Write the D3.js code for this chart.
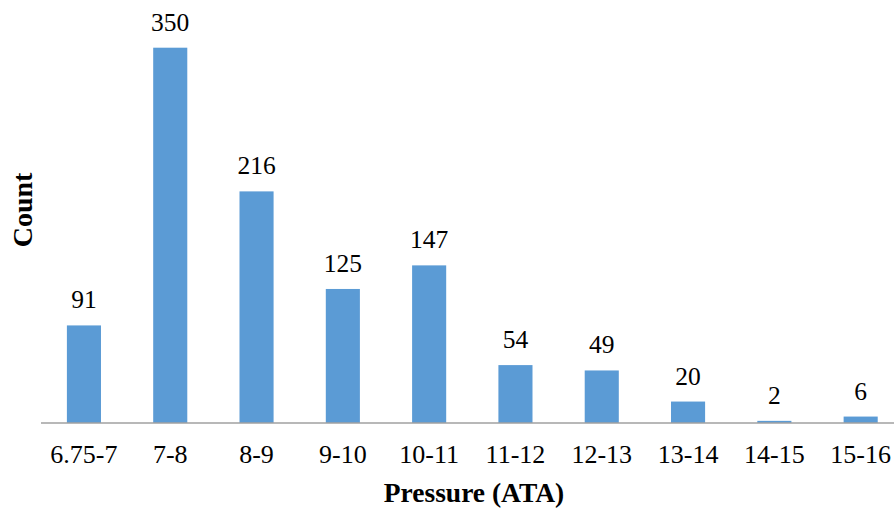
<!DOCTYPE html>
<html><head><meta charset="utf-8">
<script src="https://cdn.jsdelivr.net/npm/d3@7"></script>
<style>html,body{margin:0;padding:0;background:#fff;}svg{display:block;}
svg text{font-family:"Liberation Serif","Times New Roman","DejaVu Serif",serif;}</style>
</head><body>
<script>
const categories = ["6.75-7","7-8","8-9","9-10","10-11","11-12","12-13","13-14","14-15","15-16"];
const counts = [91,350,216,125,147,54,49,20,2,6];
const xTitle = "Pressure (ATA)";
const yTitle = "Count";

const W = 894, H = 510;
const svg = d3.select("body").append("svg").attr("width", W).attr("height", H);
const font = '"Liberation Serif","Times New Roman","DejaVu Serif",serif';

const x = d3.scaleBand().domain(categories).range([41, 903.6]).paddingInner(0.605).paddingOuter(0.3);
const y = d3.scaleLinear().domain([0, 350]).range([423, 47.7]);

svg.append("g").selectAll("rect").data(categories).join("rect")
  .attr("x", d => x(d)).attr("width", x.bandwidth())
  .attr("y", (d,i) => y(counts[i])).attr("height", (d,i) => y(0) - y(counts[i]))
  .attr("fill", "#5b9bd5");

const xAxis = svg.append("g").attr("transform", `translate(0,${y(0)})`)
  .call(d3.axisBottom(x).tickSize(0).tickPadding(0));
xAxis.attr("font-family", null).attr("font-size", null);
xAxis.select(".domain").attr("stroke", "#a0a0a0").attr("stroke-width", 1.3).attr("d", "M41,0H894");
xAxis.selectAll("text").style("font-family", font).style("font-size", "26px").attr("fill", "#000")
  .attr("dy", null).attr("y", 40);

svg.append("g").selectAll("text").data(categories).join("text")
  .attr("x", d => x(d) + x.bandwidth()/2)
  .attr("y", (d,i) => y(counts[i]) - 17)
  .attr("text-anchor", "middle").style("font-family", font).style("font-size", "25.5px").attr("fill", "#000")
  .text((d,i) => counts[i]);

svg.append("text").attr("x", 474).attr("y", 501.5).attr("text-anchor", "middle")
  .style("font-family", font).style("font-size", "27.5px").style("font-weight", "bold").text(xTitle);

svg.append("text").attr("transform", "translate(31.5,210) rotate(-90)").attr("text-anchor", "middle")
  .style("font-family", font).style("font-size", "28px").style("font-weight", "bold").text(yTitle);
</script>
</body></html>
